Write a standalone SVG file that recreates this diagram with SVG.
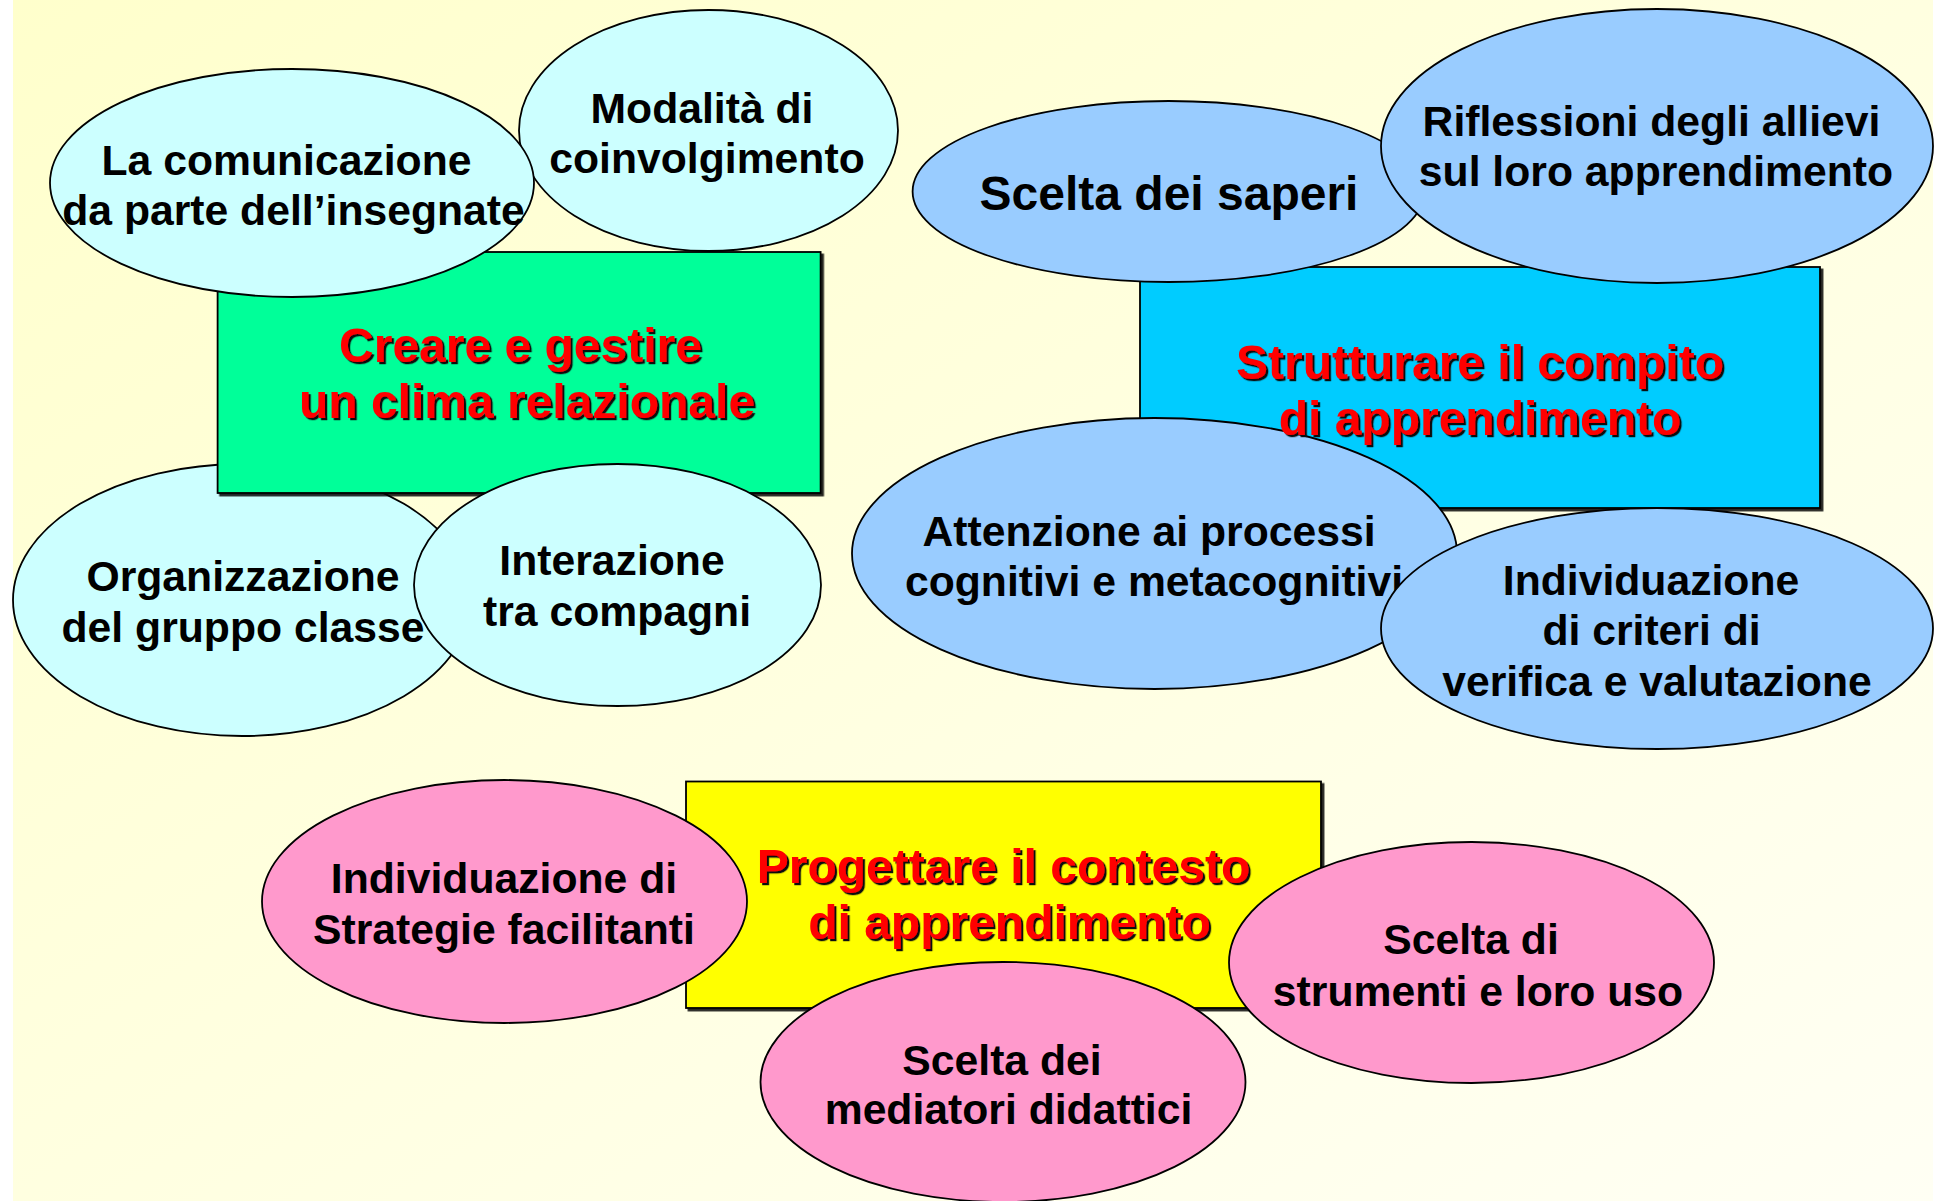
<svg xmlns="http://www.w3.org/2000/svg" width="1939" height="1201" viewBox="0 0 1939 1201">
<defs>
<linearGradient id="bg" x1="0" y1="0" x2="1" y2="1">
<stop offset="0" stop-color="#FFFFCC"/>
<stop offset="1" stop-color="#FFFFF4"/>
</linearGradient>
<filter id="tshadow" x="-5%" y="-20%" width="110%" height="140%">
<feDropShadow dx="2.2" dy="2.2" stdDeviation="0.3" flood-color="#111111" flood-opacity="1"/>
</filter>
<filter id="rshadow" x="-2%" y="-2%" width="104%" height="104%">
<feDropShadow dx="2.5" dy="2.5" stdDeviation="0" flood-color="#000000" flood-opacity="0.85"/>
</filter>
</defs>
<style>
.lc{fill:#CCFFFF;stroke:#000;stroke-width:1.8}
.lb{fill:#99CCFF;stroke:#000;stroke-width:1.8}
.pk{fill:#FF99CC;stroke:#000;stroke-width:1.8}
.box{stroke:#000;stroke-width:1.8;filter:url(#rshadow)}
text{font-family:"Liberation Sans",Arial,Helvetica,sans-serif;font-weight:bold;text-anchor:middle}
.t{font-size:42.7px;fill:#000}
.tb{font-size:48px;fill:#000}
.title{font-size:48px;fill:#FF0000;filter:url(#tshadow)}
</style>
<rect x="13" y="0" width="1920" height="1201" fill="url(#bg)"/>

<g id="n-organizzazione">
<ellipse class="lc" cx="242" cy="600" rx="229" ry="136"/>
<text class="t" x="243" y="591">Organizzazione</text>
<text class="t" x="243" y="642">del gruppo classe</text>
</g>
<g id="n-creare">
<rect class="box" x="217.6" y="252" width="603" height="241" fill="#00FF99"/>
</g>
<g id="n-interazione">
<ellipse class="lc" cx="617.5" cy="585" rx="203.5" ry="121"/>
<text class="t" x="612" y="575">Interazione</text>
<text class="t" x="617" y="626">tra compagni</text>
</g>
<g id="n-modalita">
<ellipse class="lc" cx="708.5" cy="130.5" rx="189.5" ry="120.5"/>
<text class="t" x="702" y="123">Modalità di</text>
<text class="t" x="707" y="173">coinvolgimento</text>
</g>
<g id="n-comunicazione">
<ellipse class="lc" cx="292" cy="183" rx="242" ry="114"/>
<text class="t" x="286.5" y="175">La comunicazione</text>
<text class="t" x="293.5" y="225">da parte dell’insegnate</text>
</g>

<g id="n-strutturare">
<rect class="box" x="1140" y="267" width="680" height="241" fill="#00CCFF"/>
</g>
<g id="n-saperi">
<ellipse class="lb" cx="1168.6" cy="191.5" rx="256" ry="90.5"/>
<text class="tb" x="1169" y="210">Scelta dei saperi</text>
</g>
<g id="n-riflessioni">
<ellipse class="lb" cx="1657" cy="146" rx="276" ry="137"/>
<text class="t" x="1651.5" y="136">Riflessioni degli allievi</text>
<text class="t" x="1656" y="186">sul loro apprendimento</text>
</g>
<g id="n-attenzione">
<ellipse class="lb" cx="1154.5" cy="553.5" rx="302.5" ry="135.5"/>
<text class="t" x="1149" y="546">Attenzione ai processi</text>
<text class="t" x="1154" y="596">cognitivi e metacognitivi</text>
</g>
<g id="n-criteri">
<ellipse class="lb" cx="1657" cy="628.5" rx="276" ry="120.5"/>
<text class="t" x="1651" y="595">Individuazione</text>
<text class="t" x="1651.5" y="645">di criteri di</text>
<text class="t" x="1657" y="696">verifica e valutazione</text>
</g>

<g id="n-progettare">
<rect class="box" x="686" y="781.5" width="635" height="226.5" fill="#FFFF00"/>
</g>
<g id="n-strategie">
<ellipse class="pk" cx="504.5" cy="901.5" rx="242.5" ry="121.5"/>
<text class="t" x="504" y="893">Individuazione di</text>
<text class="t" x="504" y="944">Strategie facilitanti</text>
</g>
<g id="n-strumenti">
<ellipse class="pk" cx="1471.5" cy="962.5" rx="242.5" ry="120.5"/>
<text class="t" x="1471" y="954">Scelta di</text>
<text class="t" x="1478" y="1006">strumenti e loro uso</text>
</g>
<g id="n-mediatori">
<ellipse class="pk" cx="1003" cy="1082" rx="242.5" ry="120"/>
<text class="t" x="1002" y="1075">Scelta dei</text>
<text class="t" x="1008.5" y="1124">mediatori didattici</text>
</g>

<g id="titles">
<g id="title-creare">
<text class="title" x="520.5" y="362">Creare e gestire</text>
<text class="title" x="527" y="418">un clima relazionale</text>
</g>
<g id="title-strutturare">
<text class="title" x="1480" y="379">Strutturare il compito</text>
<text class="title" x="1480" y="435">di apprendimento</text>
</g>
<g id="title-progettare">
<text class="title" x="1003.5" y="883">Progettare il contesto</text>
<text class="title" x="1009.5" y="939">di apprendimento</text>
</g>
</g>

<g id="connectors"></g>
</svg>
